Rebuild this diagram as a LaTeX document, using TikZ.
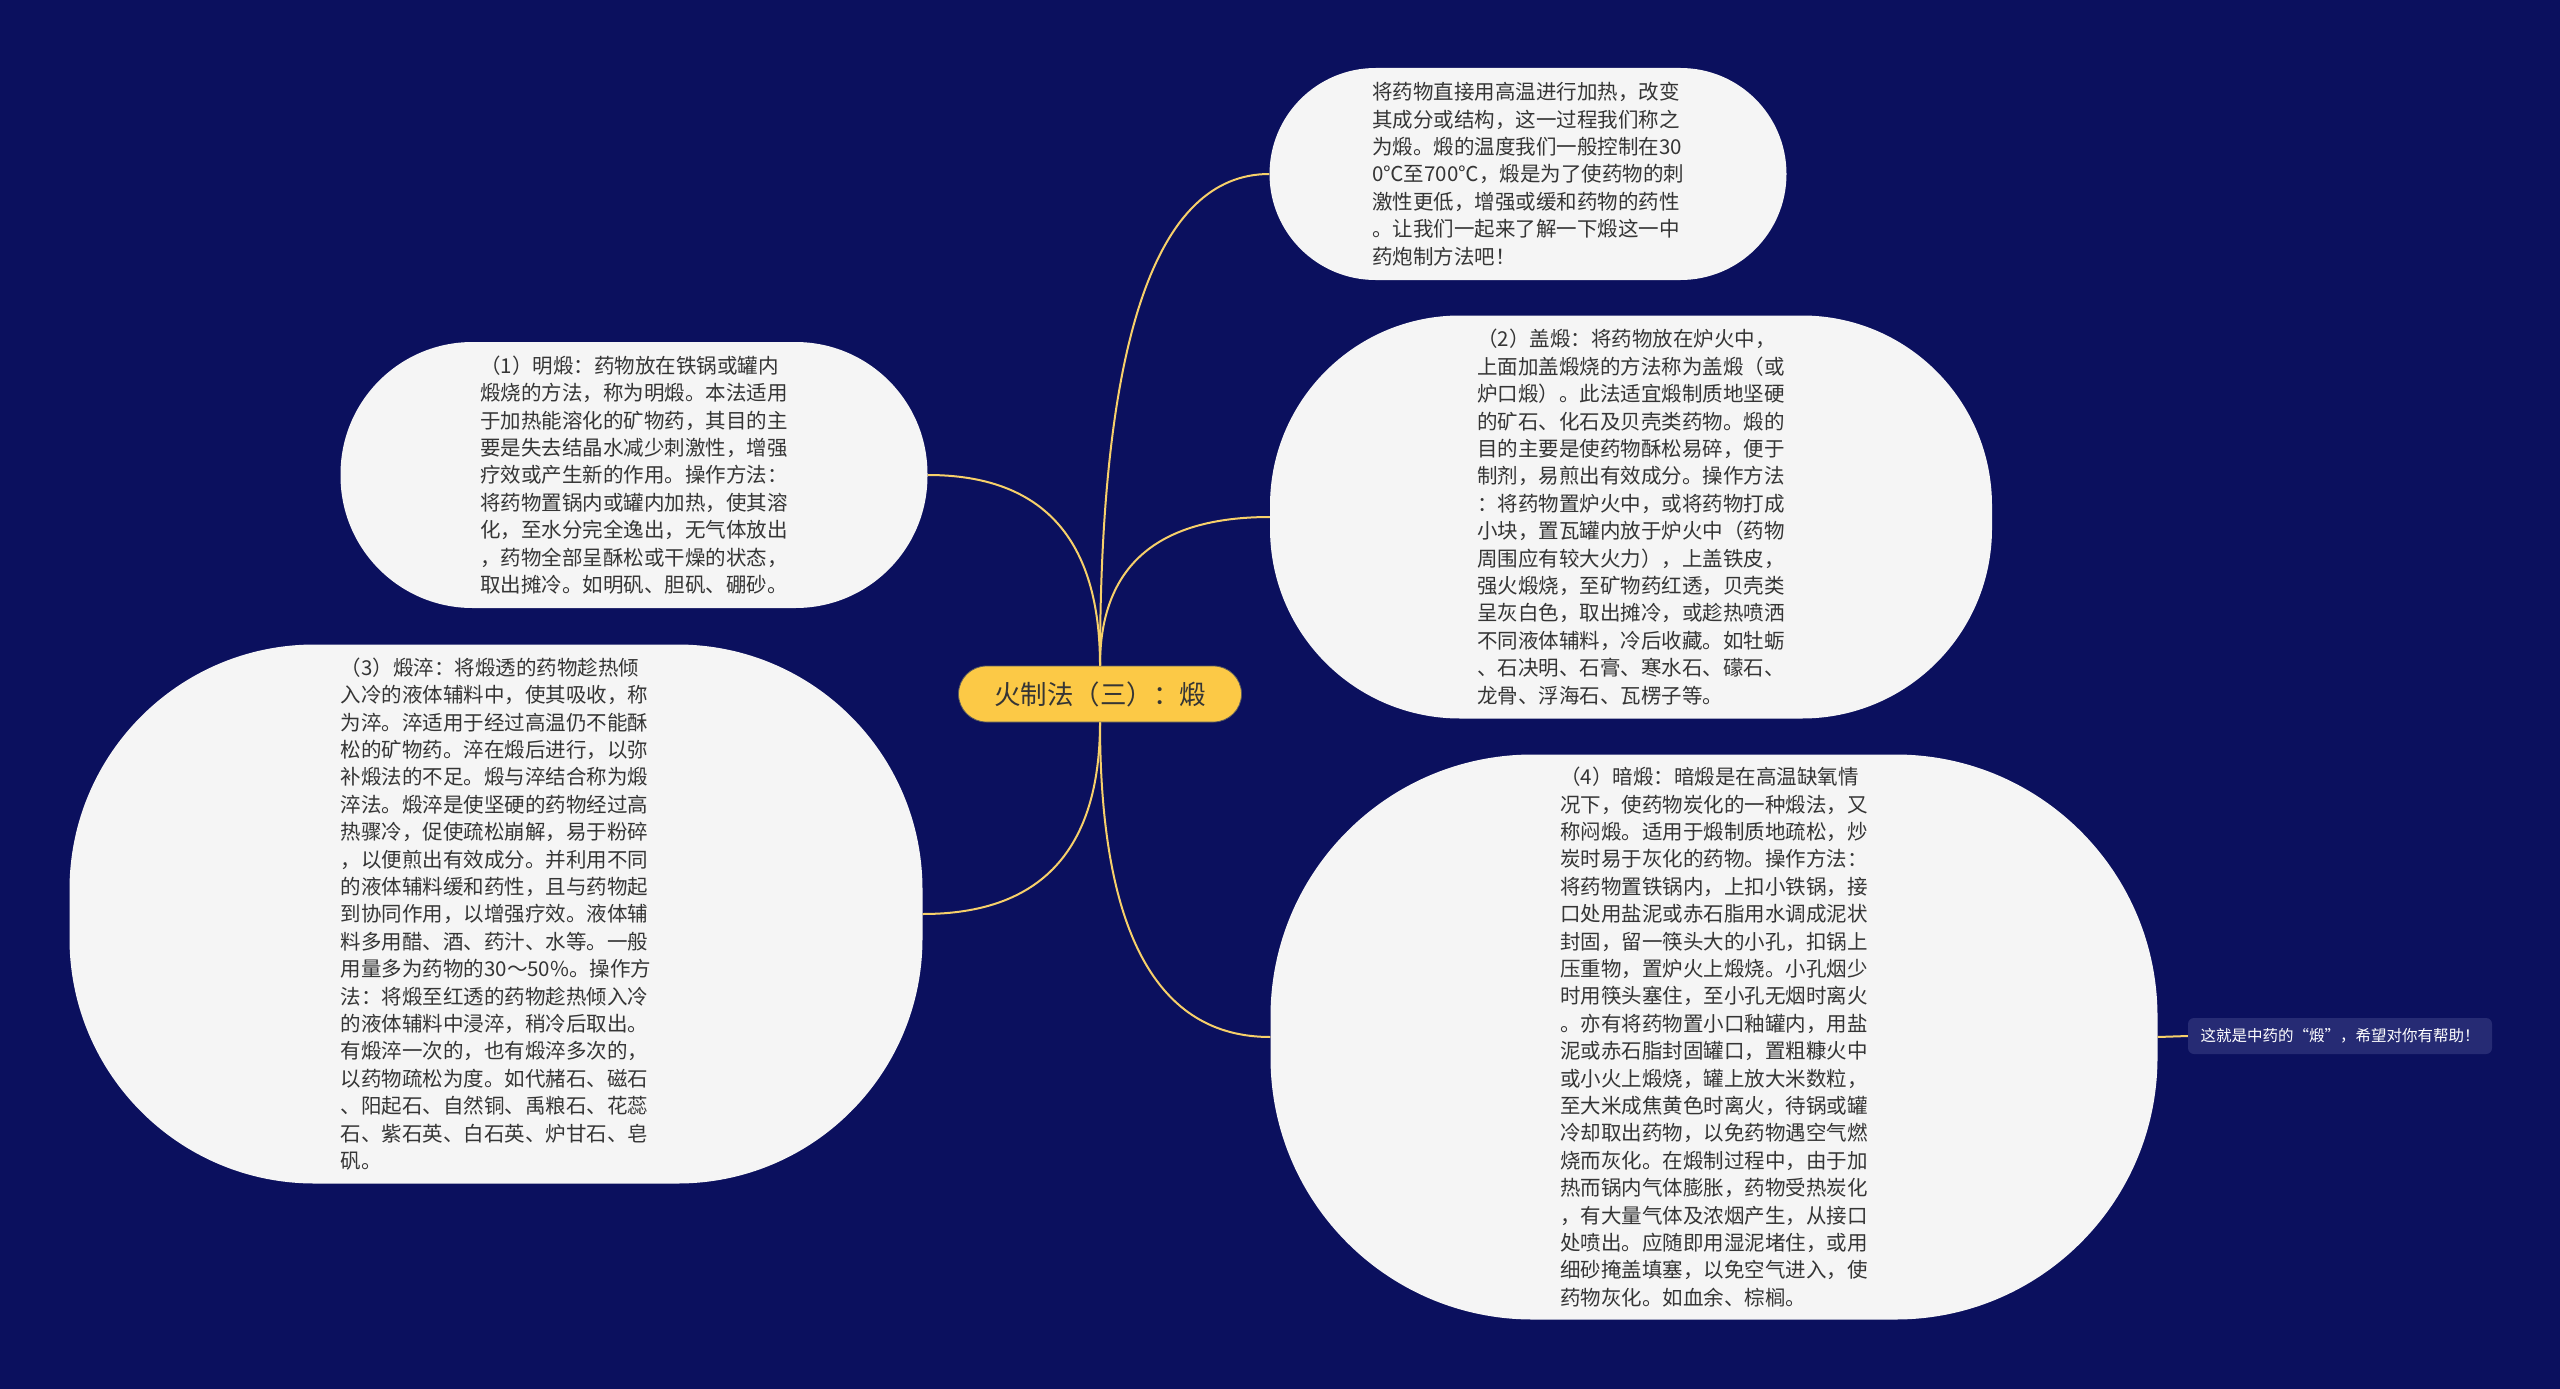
\documentclass[tikz,border=0pt]{standalone}
\usepackage{fontspec}
\setmainfont{Noto Sans CJK SC}
\usepackage{tikz}
\usetikzlibrary{calc}

\definecolor{navy}{HTML}{0B105E}
\definecolor{paper}{HTML}{F5F5F5}
\definecolor{gold}{HTML}{FCC946}
\definecolor{wire}{HTML}{F7D06A}
\definecolor{ink}{HTML}{353535}
\definecolor{tagfill}{HTML}{262B74}

\begin{document}
\begin{tikzpicture}[x=1pt, y=-1pt,
	bubble/.style={shape=rectangle, fill=paper, text=ink, align=left, inner sep=0pt,
		font=\fontsize{20.5}{27.4}\selectfont},
	branch/.style={draw=wire, line width=2pt,
		to path={.. controls ($(\tikztostart)!2/3!(\tikztostart|-\tikztotarget)$)
			and ($(\tikztotarget)!2/3!(\tikztostart|-\tikztotarget)$) .. (\tikztotarget)}}]
	
	\fill[navy] (0,0) rectangle (2560,1389);
	\useasboundingbox (0,0) rectangle (2560,1389);
	
	\node[shape=rectangle, fill=gold, draw=ink!80, line width=0.8pt, rounded corners=28pt,
		minimum width=283pt, minimum height=56pt, text=ink,
		font=\fontsize{26.5}{30}\selectfont] (root) at (1100, 694) {火制法（三）：煅};
	
	\node[bubble, rounded corners=106pt, minimum width=517pt, minimum height=212pt] (intro) at (1528, 174)
		{将药物直接用高温进行加热，改变\\其成分或结构，这一过程我们称之\\为煅。煅的温度我们一般控制在30\\0℃至700℃，煅是为了使药物的刺\\激性更低，增强或缓和药物的药性\\。让我们一起来了解一下煅这一中\\药炮制方法吧！};
	
	\node[bubble, rounded corners=132pt, minimum width=587pt, minimum height=266pt] (ming) at (634, 475)
		{（1）明煅：药物放在铁锅或罐内\\煅烧的方法，称为明煅。本法适用\\于加热能溶化的矿物药，其目的主\\要是失去结晶水减少刺激性，增强\\疗效或产生新的作用。操作方法：\\将药物置锅内或罐内加热，使其溶\\化，至水分完全逸出，无气体放出\\，药物全部呈酥松或干燥的状态，\\取出摊冷。如明矾、胆矾、硼砂。};
	
	\node[bubble, rounded corners=190pt, minimum width=722pt, minimum height=403pt] (gai) at (1631, 517)
		{（2）盖煅：将药物放在炉火中，\\上面加盖煅烧的方法称为盖煅（或\\炉口煅）。此法适宜煅制质地坚硬\\的矿石、化石及贝壳类药物。煅的\\目的主要是使药物酥松易碎，便于\\制剂，易煎出有效成分。操作方法\\：将药物置炉火中，或将药物打成\\小块，置瓦罐内放于炉火中（药物\\周围应有较大火力），上盖铁皮，\\强火煅烧，至矿物药红透，贝壳类\\呈灰白色，取出摊冷，或趁热喷洒\\不同液体辅料，冷后收藏。如牡蛎\\、石决明、石膏、寒水石、礞石、\\龙骨、浮海石、瓦楞子等。};
	
	\node[bubble, rounded corners=245pt, minimum width=853pt, minimum height=539pt] (cui) at (496, 914)
		{（3）煅淬：将煅透的药物趁热倾\\入冷的液体辅料中，使其吸收，称\\为淬。淬适用于经过高温仍不能酥\\松的矿物药。淬在煅后进行，以弥\\补煅法的不足。煅与淬结合称为煅\\淬法。煅淬是使坚硬的药物经过高\\热骤冷，促使疏松崩解，易于粉碎\\，以便煎出有效成分。并利用不同\\的液体辅料缓和药性，且与药物起\\到协同作用，以增强疗效。液体辅\\料多用醋、酒、药汁、水等。一般\\用量多为药物的30～50\%。操作方\\法：将煅至红透的药物趁热倾入冷\\的液体辅料中浸淬，稍冷后取出。\\有煅淬一次的，也有煅淬多次的，\\以药物疏松为度。如代赭石、磁石\\、阳起石、自然铜、禹粮石、花蕊\\石、紫石英、白石英、炉甘石、皂\\矾。};
	
	\node[bubble, rounded corners=262pt, minimum width=887pt, minimum height=565pt] (an) at (1714, 1037)
		{（4）暗煅：暗煅是在高温缺氧情\\况下，使药物炭化的一种煅法，又\\称闷煅。适用于煅制质地疏松，炒\\炭时易于灰化的药物。操作方法：\\将药物置铁锅内，上扣小铁锅，接\\口处用盐泥或赤石脂用水调成泥状\\封固，留一筷头大的小孔，扣锅上\\压重物，置炉火上煅烧。小孔烟少\\时用筷头塞住，至小孔无烟时离火\\。亦有将药物置小口釉罐内，用盐\\泥或赤石脂封固罐口，置粗糠火中\\或小火上煅烧，罐上放大米数粒，\\至大米成焦黄色时离火，待锅或罐\\冷却取出药物，以免药物遇空气燃\\烧而灰化。在煅制过程中，由于加\\热而锅内气体膨胀，药物受热炭化\\，有大量气体及浓烟产生，从接口\\处喷出。应随即用湿泥堵住，或用\\细砂掩盖填塞，以免空气进入，使\\药物灰化。如血余、棕榈。};
	
	\node[shape=rectangle, fill=tagfill, text=white, rounded corners=6pt,
		minimum width=304pt, minimum height=36pt, inner sep=0pt,
		font=\fontsize{15.5}{18}\selectfont] (tag) at (2340, 1036) {这就是中药的“煅”，希望对你有帮助！};
	
	\path (root.north) edge[branch] (intro.west);
	\path (root.north) edge[branch] (gai.west);
	\path (root.north) edge[branch] (ming.east);
	\path (root.south) edge[branch] (cui.east);
	\path (root.south) edge[branch] (an.west);
	\draw[wire, line width=2pt] (an.east) -- (tag.west);
	
\end{tikzpicture}
\end{document}
